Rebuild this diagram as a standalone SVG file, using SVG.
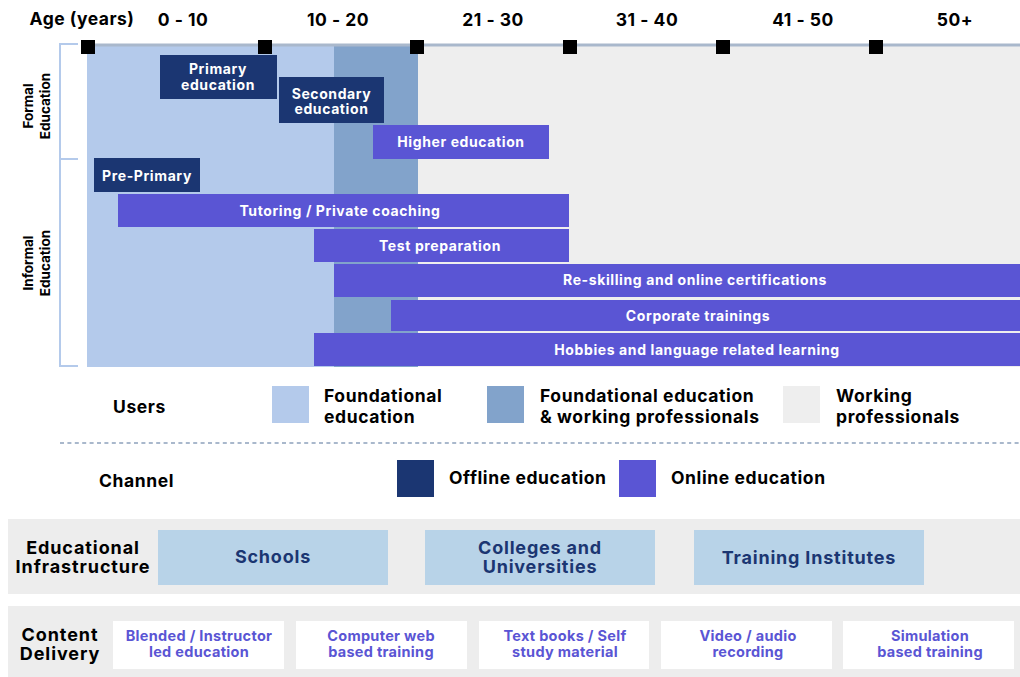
<svg xmlns="http://www.w3.org/2000/svg" width="1020" height="677" viewBox="0 0 1020 677">
<style>
text{font-family:Inter,"Liberation Sans",sans-serif;font-weight:700}
.hd{font-size:17.5px;fill:#000;text-anchor:middle;letter-spacing:0.5px}
.bx{font-size:14px;fill:#fff;text-anchor:middle;letter-spacing:0.6px}
.side{font-size:13.5px;fill:#000;text-anchor:middle}
.lg{font-size:17.5px;fill:#000;letter-spacing:0.6px}
.infra{font-size:18px;fill:#1b3672;text-anchor:middle;letter-spacing:0.8px}
.cd{font-size:14.5px;fill:#5a55d4;text-anchor:middle;letter-spacing:0.3px}
.rowlab{font-size:18px;fill:#000;text-anchor:middle;letter-spacing:0.9px}
.off{fill:#1b3672}
.on{fill:#5a55d4}
.tick{fill:#000}
</style>
<rect width="1020" height="677" fill="#fff"/>
<!-- background user zones -->
<g id="zones">
<rect x="87" y="46" width="247" height="321" fill="#b4caeb"/>
<rect x="334" y="46" width="84" height="321" fill="#82a3cb"/>
<rect x="418" y="46" width="602" height="321" fill="#eeeeee"/>
</g>
<!-- axis -->
<g id="axis">
<line x1="87" y1="45" x2="1020" y2="45" stroke="#a9b8cc" stroke-width="3"/>
<rect class="tick" x="81" y="40" width="14" height="14"/>
<rect class="tick" x="258" y="40" width="14" height="14"/>
<rect class="tick" x="410" y="40" width="14" height="14"/>
<rect class="tick" x="563" y="40" width="14" height="14"/>
<rect class="tick" x="716" y="40" width="14" height="14"/>
<rect class="tick" x="869" y="40" width="14" height="14"/>
<text class="hd" x="82" y="25">Age (years)</text>
<text class="hd" x="183" y="26">0 - 10</text>
<text class="hd" x="338" y="26">10 - 20</text>
<text class="hd" x="493" y="26">21 - 30</text>
<text class="hd" x="647" y="26">31 - 40</text>
<text class="hd" x="803" y="26">41 - 50</text>
<text class="hd" x="955" y="26">50+</text>
</g>
<!-- side bracket -->
<g id="bracket" fill="none" stroke="#b4caeb" stroke-width="2">
<path d="M78 44 H60 V366 H78 M60 159 H78"/>
</g>
<g id="side-labels">
<text class="side" transform="translate(33 106) rotate(-90)">Formal</text>
<text class="side" transform="translate(50 106) rotate(-90)">Education</text>
<text class="side" transform="translate(33 263) rotate(-90)">Informal</text>
<text class="side" transform="translate(50 263) rotate(-90)">Education</text>
</g>
<!-- bars -->
<g id="primary"><rect class="off" x="160" y="55" width="117" height="44"/><text class="bx" x="218" y="74">Primary</text><text class="bx" x="218" y="90">education</text></g>
<g id="secondary"><rect class="off" x="279" y="77" width="105" height="46"/><text class="bx" x="331.5" y="99">Secondary</text><text class="bx" x="331.5" y="114">education</text></g>
<g id="higher"><rect class="on" x="373" y="125" width="176" height="34"/><text class="bx" x="461" y="147">Higher education</text></g>
<g id="preprimary"><rect class="off" x="94" y="158" width="106" height="34"/><text class="bx" x="147" y="181">Pre-Primary</text></g>
<g id="tutoring"><rect class="on" x="118" y="194" width="451" height="33"/><text class="bx" x="340" y="216">Tutoring / Private coaching</text></g>
<g id="testprep"><rect class="on" x="314" y="229" width="255" height="33"/><text class="bx" x="440" y="251">Test preparation</text></g>
<g id="reskilling"><rect class="on" x="334" y="264" width="686" height="33"/><text class="bx" x="695" y="285">Re-skilling and online certifications</text></g>
<g id="corporate"><rect class="on" x="391" y="300" width="629" height="31"/><text class="bx" x="698" y="321">Corporate trainings</text></g>
<g id="hobbies"><rect class="on" x="314" y="333" width="706" height="33"/><text class="bx" x="697" y="355">Hobbies and language related learning</text></g>
<!-- legend users -->
<g id="legend-users">
<text class="lg" x="113" y="413">Users</text>
<rect x="272" y="386" width="37" height="37" fill="#b4caeb"/>
<text class="lg" x="324" y="402">Foundational</text><text class="lg" x="324" y="423">education</text>
<rect x="487" y="386" width="37" height="37" fill="#82a3cb"/>
<text class="lg" x="540" y="402">Foundational education</text><text class="lg" x="540" y="423">&amp; working professionals</text>
<rect x="783" y="386" width="37" height="37" fill="#eeeeee"/>
<text class="lg" x="836" y="402">Working</text><text class="lg" x="836" y="423">professionals</text>
</g>
<line x1="60" y1="443" x2="1020" y2="443" stroke="#a9b8cc" stroke-width="2" stroke-dasharray="4 3.4"/>
<g id="legend-channel">
<text class="lg" x="99" y="487">Channel</text>
<rect class="off" x="397" y="460" width="37" height="37"/>
<text class="lg" x="449" y="484">Offline education</text>
<rect class="on" x="619" y="460" width="37" height="37"/>
<text class="lg" x="671" y="484">Online education</text>
</g>
<!-- infrastructure -->
<g id="infrastructure">
<rect x="8" y="519" width="1012" height="75" fill="#ededed"/>
<text class="rowlab" x="83" y="554">Educational</text>
<text class="rowlab" x="83" y="573">Infrastructure</text>
<g id="schools"><rect x="158" y="530" width="230" height="55" fill="#b8d3e8"/><text class="infra" x="273" y="563">Schools</text></g>
<g id="colleges"><rect x="425" y="530" width="230" height="55" fill="#b8d3e8"/><text class="infra" x="540" y="554">Colleges and</text><text class="infra" x="540" y="573">Universities</text></g>
<g id="training"><rect x="694" y="530" width="230" height="55" fill="#b8d3e8"/><text class="infra" x="809" y="564">Training Institutes</text></g>
</g>
<!-- content delivery -->
<g id="content-delivery">
<rect x="8" y="606" width="1012" height="71" fill="#ededed"/>
<text class="rowlab" x="60" y="641">Content</text>
<text class="rowlab" x="60" y="660">Delivery</text>
<g id="blended"><rect x="113" y="621" width="171" height="48" fill="#fff"/><text class="cd" x="199" y="641">Blended / Instructor</text><text class="cd" x="199" y="657">led education</text></g>
<g id="cbt"><rect x="296" y="621" width="171" height="48" fill="#fff"/><text class="cd" x="381" y="641">Computer web</text><text class="cd" x="381" y="657">based training</text></g>
<g id="textbooks"><rect x="479" y="621" width="170" height="48" fill="#fff"/><text class="cd" x="565" y="641">Text books / Self</text><text class="cd" x="565" y="657">study material</text></g>
<g id="video"><rect x="661" y="621" width="171" height="48" fill="#fff"/><text class="cd" x="748" y="641">Video / audio</text><text class="cd" x="748" y="657">recording</text></g>
<g id="simulation"><rect x="843" y="621" width="171" height="48" fill="#fff"/><text class="cd" x="930" y="641">Simulation</text><text class="cd" x="930" y="657">based training</text></g>
</g>
</svg>
